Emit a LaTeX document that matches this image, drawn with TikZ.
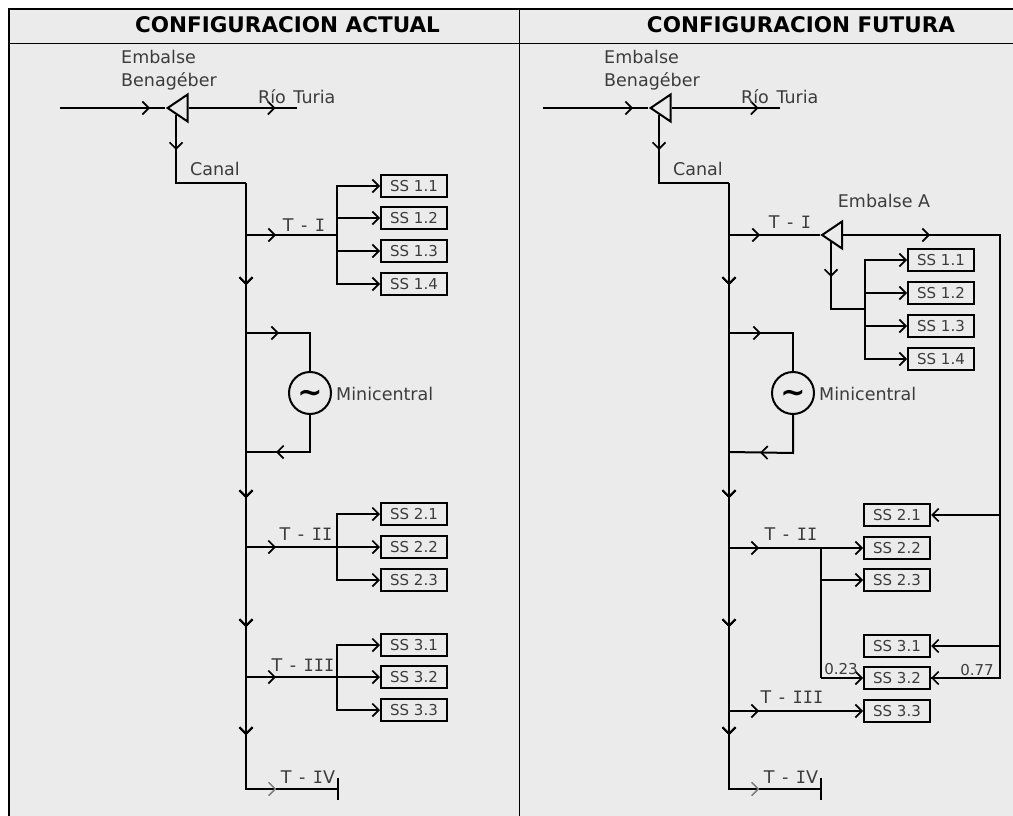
\documentclass[tikz,border=0pt]{standalone}
\usepackage{fontspec}
\setmainfont{DejaVu Sans}
\newfontfamily\serifI{DejaVu Sans Mono}
\usetikzlibrary{arrows.meta,decorations.markings,shapes.geometric}
\definecolor{panel}{HTML}{EBEBEB}
\definecolor{ink}{HTML}{3C3C3C}
\newcommand{\RI}{{\serifI\fontsize{17}{17}\selectfont I}}
\newcommand{\TT}{T\hspace{2pt} - \hspace{2pt}}
\tikzset{
  x=1pt,y=-1pt,
  pipe/.style={line width=2pt,line join=miter},
  barb/.tip={Straight Barb[length=6.5pt,width=13pt,line width=1.7pt]},
  thinbarb/.tip={Straight Barb[length=6.5pt,width=13pt,line width=1pt,color=gray]},
  flowat/.style={postaction={decorate},decoration={markings,mark=at position #1 with {\arrow{barb}}}},
  faintat/.style={postaction={decorate},decoration={markings,mark=at position #1 with {\arrow{thinbarb}}}},
  ssbox/.style={draw,line width=2pt,fill=panel,minimum width=66pt,minimum height=22pt,inner sep=0pt,text=ink,font=\fontsize{15}{15}\selectfont},
  lab/.style={text=ink,inner sep=0pt,font=\fontsize{17.5}{23}\selectfont},
  small/.style={text=ink,inner sep=0pt,font=\fontsize{15}{15}\selectfont},
  title/.style={inner sep=0pt,font=\fontsize{21.5}{21.5}\selectfont\bfseries},
  gate/.style={draw,line width=2pt,fill=panel,isosceles triangle,isosceles triangle stretches,shape border rotate=180,minimum height=20pt,minimum width=27pt,inner sep=0pt,anchor=apex},
  gen/.style={draw,line width=2pt,circle,minimum size=42pt,inner sep=0pt,fill=panel},
  wave/.style={font=\fontsize{30}{30}\selectfont\bfseries,inner sep=0pt},
}
\begin{document}
\begin{tikzpicture}
\useasboundingbox (0,0) rectangle (1013,816);
\fill[white] (0,0) rectangle (1013,816);
\fill[panel] (9,9) rectangle (1013,816);
\draw[line width=2.4pt] (9,816) -- (9,9) -- (1013,9);
\draw[line width=1pt] (9,44) -- (1013,44);
\draw[line width=1pt] (519,9) -- (519,816);
\node[title] (t1) at (287.5,25) {CONFIGURACION ACTUAL};
\node[title] (t2) at (801,25) {CONFIGURACION FUTURA};

% ---------- LEFT ----------
\node[lab,align=left,anchor=north west] (embL) at (121,50) {Embalse\\Benagéber};
\node[gate] (triL) at (165,108) {};
\coordinate (inL) at (60,108);
\coordinate (rioL) at (297,108);
\coordinate (tailL) at (176,115);
\coordinate (c1L) at (176,183);
\coordinate (c2L) at (246,183);
\coordinate (m4L) at (246,789);
\coordinate (j1L) at (246,235);
\coordinate (b1L) at (337,235);
\coordinate (mtL) at (246,333);
\coordinate (mt2L) at (310,333);
\coordinate (mbL) at (246,452);
\coordinate (mb2L) at (310,452);
\coordinate (j2L) at (246,547);
\coordinate (b2L) at (337,547);
\coordinate (j3L) at (246,677);
\coordinate (b3L) at (337,677);
\coordinate (endL) at (338,789);
\draw[pipe,flowat=90pt] (inL) -- (triL.apex);
\draw[pipe,flowat=87pt] (triL.east |- rioL) -- (rioL);
\node[lab,anchor=base west] at (258,103) {Río\hspace{2pt} Turia};
\draw[pipe,flowat=35pt] (tailL) -- (c1L) -- (c2L);
\draw[pipe,flowat=102pt,flowat=315pt,flowat=444pt,flowat=552pt,faintat=636pt] (c2L) -- (m4L) -- (endL);
\node[lab,anchor=base west] (canL) at (190,175) {Canal};

\foreach \n/\y/\t in {11/186/SS 1.1,12/218/SS 1.2,13/251/SS 1.3,14/284/SS 1.4,21/514/SS 2.1,22/547/SS 2.2,23/580/SS 2.3,31/645/SS 3.1,32/677/SS 3.2,33/710/SS 3.3}{
  \node[ssbox] (L\n) at (414,\y) {\t};
}
\draw[pipe,flowat=30pt] (j1L) -- (b1L);
\draw[pipe,-{barb}] (b1L) |- (L11.west);
\draw[pipe,-{barb}] (b1L |- L12) -- (L12.west);
\draw[pipe,-{barb}] (b1L |- L13) -- (L13.west);
\draw[pipe,-{barb}] (b1L) |- (L14.west);
\node[lab,anchor=base] at (304,231) {\TT\RI};

\draw[pipe,flowat=33pt] (mtL) -- (mt2L) -- (310,372);
\node[gen] (genL) at (310,393) {};
\node[wave] at (310,396) {∼};
\draw[pipe,flowat=71pt] (genL.south) -- (mb2L) -- (mbL);
\node[lab,anchor=west] at (336,394) {Minicentral};

\draw[pipe,flowat=30pt] (j2L) -- (b2L);
\draw[pipe,-{barb}] (b2L) |- (L21.west);
\draw[pipe,-{barb}] (b2L) -- (L22.west);
\draw[pipe,-{barb}] (b2L) |- (L23.west);
\node[lab,anchor=base] at (306,540) {\TT\RI\RI};

\draw[pipe,flowat=30pt] (j3L) -- (b3L);
\draw[pipe,-{barb}] (b3L) |- (L31.west);
\draw[pipe,-{barb}] (b3L) -- (L32.west);
\draw[pipe,-{barb}] (b3L) |- (L33.west);
\node[lab,anchor=base] at (303,671) {\TT\RI\RI\RI};

\draw[pipe] (338,778) -- (338,800);
\node[lab,anchor=base] at (308,783) {\TT\RI V};

% ---------- RIGHT ----------
\node[lab,align=left,anchor=north west] (embR) at (604,50) {Embalse\\Benagéber};
\node[gate] (triR) at (648,108) {};
\coordinate (inR) at (543,108);
\coordinate (rioR) at (780,108);
\coordinate (tailR) at (659,115);
\coordinate (c1R) at (659,183);
\coordinate (c2R) at (729,183);
\coordinate (m4R) at (729,789);
\coordinate (j1R) at (729,235);
\coordinate (mtR) at (729,333);
\coordinate (mbR) at (729,452);
\coordinate (j2R) at (729,548);
\coordinate (j3R) at (729,711);
\coordinate (endR) at (821,789);
\draw[pipe,flowat=90pt] (inR) -- (triR.apex);
\draw[pipe,flowat=87pt] (triR.east |- rioR) -- (rioR);
\node[lab,anchor=base west] at (741,103) {Río\hspace{2pt} Turia};
\draw[pipe,flowat=35pt] (tailR) -- (c1R) -- (c2R);
\draw[pipe,flowat=102pt,flowat=315pt,flowat=444pt,flowat=552pt,faintat=636pt] (c2R) -- (m4R) -- (endR);
\node[lab,anchor=base west] (canR) at (673,175) {Canal};

\foreach \n/\y/\t in {11/260/SS 1.1,12/293/SS 1.2,13/326/SS 1.3,14/359/SS 1.4}{
  \node[ssbox] (R\n) at (941,\y) {\t};
}
\foreach \n/\y/\t in {21/515/SS 2.1,22/548/SS 2.2,23/580/SS 2.3,31/646/SS 3.1,32/678/SS 3.2,33/711/SS 3.3}{
  \node[ssbox] (R\n) at (897,\y) {\t};
}
\node[gate] (triA) at (819.5,235) {};
\coordinate (tailA) at (831,242);
\coordinate (cA) at (831,309);
\coordinate (jA) at (865,309);
\coordinate (east) at (1000,235);
\coordinate (eastb) at (1000,678);
\coordinate (b2R) at (821,548);
\node[lab,anchor=base] at (884,207) {Embalse A};
\draw[pipe,flowat=31pt] (j1R) -- (triA.apex);
\node[lab,anchor=base] at (790,228) {\TT\RI};
\draw[pipe,flowat=87pt] (triA.east |- j1R) -- (east) -- (eastb) -- (R32.east);
\draw[pipe,{barb}-] (R21.east) -- (east |- R21);
\draw[pipe,{barb}-] (R31.east) -- (east |- R31);
\draw[pipe,{barb}-] (R32.east) -- +(10,0);
\draw[pipe,flowat=35pt] (tailA) -- (cA) -- (jA);
\draw[pipe,-{barb}] (jA) |- (R11.west);
\draw[pipe,-{barb}] (jA |- R12) -- (R12.west);
\draw[pipe,-{barb}] (jA |- R13) -- (R13.west);
\draw[pipe,-{barb}] (jA) |- (R14.west);

\draw[pipe,flowat=32pt] (mtR) -- ++(64,0) -- ++(0,39);
\node[gen] (genR) at (793,393) {};
\node[wave] at (793,396) {∼};
\draw[pipe,flowat=71pt] (genR.south) -- ++(0,38) -- (mbR);
\node[lab,anchor=west] at (819,394) {Minicentral};

\draw[pipe,flowat=30pt,-{barb}] (j2R) -- (R22.west);
\draw[pipe] (b2R) -- (b2R |- R32);
\draw[pipe,-{barb}] (b2R |- R23) -- (R23.west);
\draw[pipe,-{barb}] (b2R |- R32) -- (R32.west);
\node[lab,anchor=base] at (791,540) {\TT\RI\RI};
\node[small,anchor=base] at (841,674) {0.23};
\node[small,anchor=base] at (977,675) {0.77};

\draw[pipe,flowat=30pt,-{barb}] (j3R) -- (R33.west);
\node[lab,anchor=base] at (792,703) {\TT\RI\RI\RI};

\draw[pipe] (821,778) -- (821,800);
\node[lab,anchor=base] at (791,783) {\TT\RI V};
\end{tikzpicture}
\end{document}
